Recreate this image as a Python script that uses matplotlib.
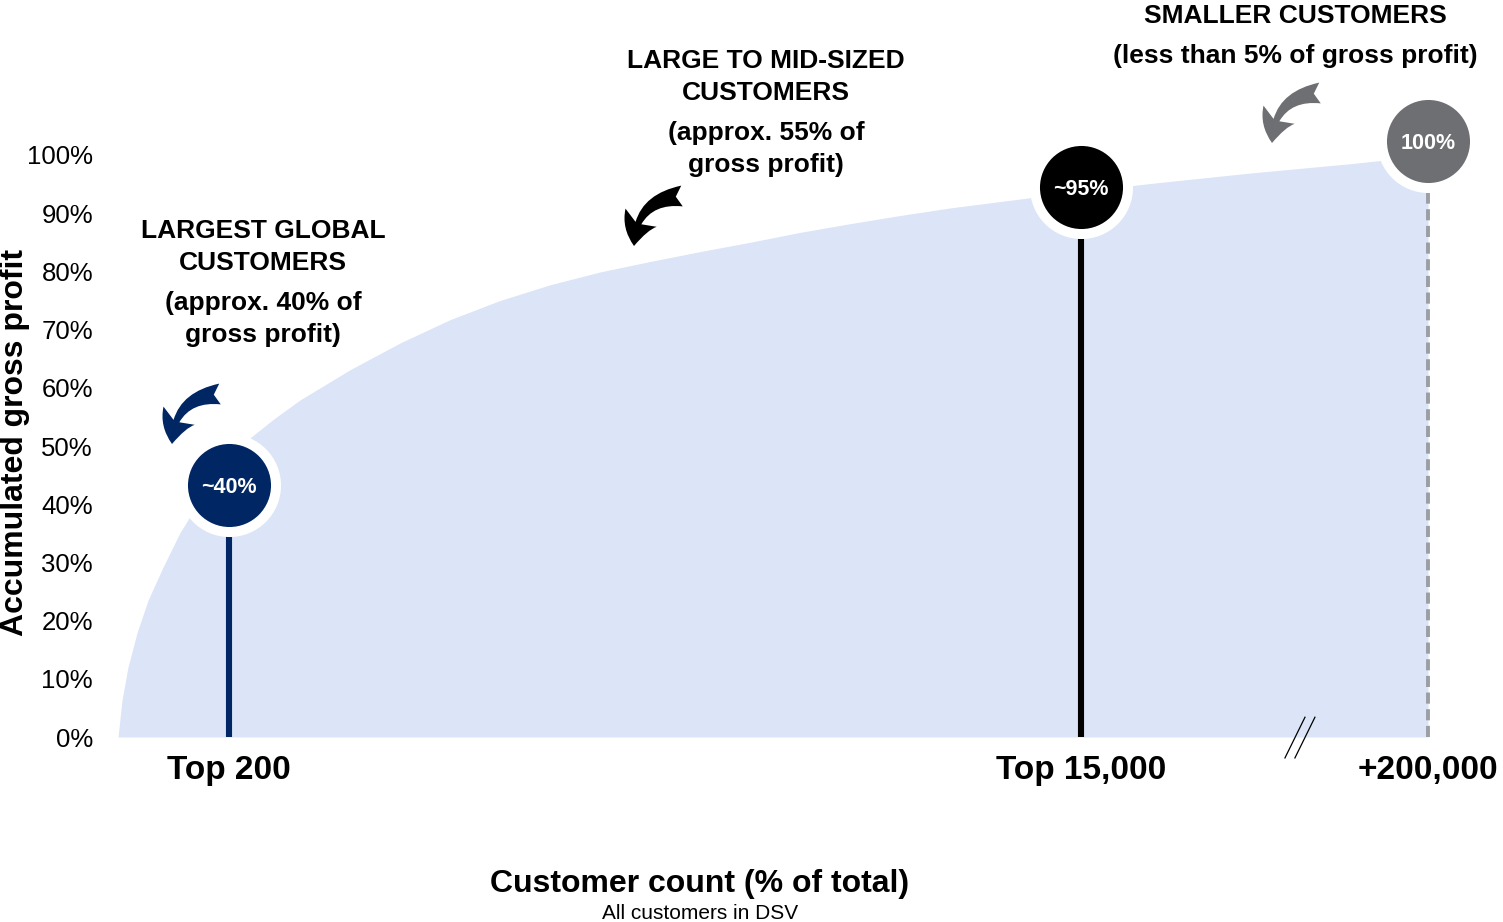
import matplotlib
matplotlib.use("Agg")
import matplotlib.pyplot as plt
from matplotlib.patches import FancyArrowPatch
from matplotlib.transforms import ScaledTranslation

plt.rcParams["font.family"] = ["Liberation Sans", "DejaVu Sans"]
plt.rcParams["lines.scale_dashes"] = False

# cumulative gross profit curve (x = position along customer axis, 0..1)
curve_x = [0.0, 0.0031, 0.0076, 0.0145, 0.0229, 0.0344, 0.0473, 0.0626,
           0.0817, 0.1008, 0.1198, 0.1389, 0.1771, 0.2153, 0.2534, 0.2916,
           0.3298, 0.3679, 0.4061, 0.4443, 0.4824, 0.5206, 0.5588, 0.5969,
           0.6351, 0.6733, 0.7115, 0.7496, 0.7878, 0.826, 0.8641, 0.9023,
           0.9405, 0.9656, 1.0]
curve_y = [0, 6.4, 12.0, 17.9, 23.5, 29.2, 35.1, 40.7, 46.4, 51.4, 54.8,
           57.9, 63.1, 67.7, 71.7, 75.0, 77.7, 79.9, 81.7, 83.4, 85.0, 86.7,
           88.2, 89.6, 90.9, 92.0, 93.1, 94.1, 95.1, 96.0, 96.9, 97.7, 98.5,
           99.1, 100]

# customer segments
seg_x = [0.0847, 0.7351, 1.0]
seg_ticks = ["Top 200", "Top 15,000", "+200,000"]
seg_share = [40, 95, 100]
seg_labels = ["~40%", "~95%", "100%"]

y_ticks = list(range(0, 101, 10))

NAVY = "#002663"
BLACK = "#000000"
GREY = "#6d6f72"
GREY_STEM = "#9c9ea6"
FILL = "#dbe5f7"

W, H = 1503, 922
fig = plt.figure(figsize=(W / 100, H / 100), dpi=100)


def fx(px):
    return px / W


def fy(py):
    return 1 - py / H


ax = fig.add_axes([fx(118), fy(737), 1310 / W, 582 / H])
ax.set_xlim(0, 1)
ax.set_ylim(0, 100)
for s in ax.spines.values():
    s.set_visible(False)

ax.fill_between(curve_x, curve_y, 0, color=FILL, lw=0, zorder=1)

# stems
ax.vlines(seg_x[0], 0, seg_share[0], color=NAVY, lw=4.4, zorder=2)
ax.vlines(seg_x[1], 0, seg_share[1], color=BLACK, lw=4.4, zorder=2)
ax.plot([seg_x[2], seg_x[2]], [0, seg_share[2]], color=GREY_STEM, lw=2.8,
        dashes=(8, 4), zorder=2, clip_on=False)

# circles with the share labels
circle_cols = [NAVY, BLACK, GREY]
nudges = [13.7, -2, 10]
for x, v, lab, c, dy in zip(seg_x, seg_share, seg_labels, circle_cols, nudges):
    tr = ax.transData + ScaledTranslation(0, dy / 72, fig.dpi_scale_trans)
    ax.plot([x], [v], "o", ms=67, mfc=c, mec="white", mew=7.2,
            transform=tr, clip_on=False, zorder=5)
    ax.annotate(lab, (x, v), xytext=(0, dy), textcoords="offset points",
                ha="center", va="center_baseline", color="white",
                fontsize=15.5, fontweight="bold", zorder=6)

ax.set_yticks(y_ticks, [f"{t}%" for t in y_ticks])
ax.set_xticks(seg_x, seg_ticks)
ax.tick_params(axis="y", length=0, pad=18, labelsize=18.5)
ax.tick_params(axis="x", length=0, pad=13, labelsize=24)
for t in ax.get_xticklabels():
    t.set_fontweight("bold")

# axis break marks
for off in (0, 0.0076):
    ax.plot([0.8908 + off, 0.9061 + off], [-3.6, 3.4], color="black", lw=0.9,
            clip_on=False)

# axis titles
fig.text(fx(15), fy(442), "Accumulated gross profit", rotation=90,
         ha="center", va="center", fontsize=23, fontweight="bold")
fig.text(fx(700), fy(884), "Customer count (% of total)", ha="center",
         va="center", fontsize=23, fontweight="bold")
fig.text(fx(700), fy(913), "All customers in DSV", ha="center",
         va="center", fontsize=15)

# segment call-outs
callouts = [
    (263, 247, "LARGEST GLOBAL\nCUSTOMERS"),
    (263, 319, "(approx. 40% of\ngross profit)"),
    (766, 77, "LARGE TO MID-SIZED\nCUSTOMERS"),
    (766, 149, "(approx. 55% of\ngross profit)"),
    (1295, 16, "SMALLER CUSTOMERS"),
    (1295, 56, "(less than 5% of gross profit)"),
]
for px, py, txt in callouts:
    fig.text(fx(px), fy(py), txt, ha="center", va="center", fontsize=19,
             fontweight="bold", linespacing=1.37)

# curved arrows pointing at each segment
arrows = [((220, 394), (172, 444), NAVY),
          ((682, 196), (634, 246), BLACK),
          ((1320, 93), (1272, 143), GREY)]
for (x0, y0), (x1, y1), c in arrows:
    arr = FancyArrowPatch((fx(x0), fy(y0)), (fx(x1), fy(y1)),
                          transform=fig.transFigure,
                          connectionstyle="arc3,rad=0.45",
                          arrowstyle="fancy,head_width=26,head_length=21,tail_width=15",
                          mutation_scale=1, color=c, lw=0,
                          shrinkA=0, shrinkB=0)
    fig.patches.append(arr)

fig.savefig("out.png", dpi=100)
